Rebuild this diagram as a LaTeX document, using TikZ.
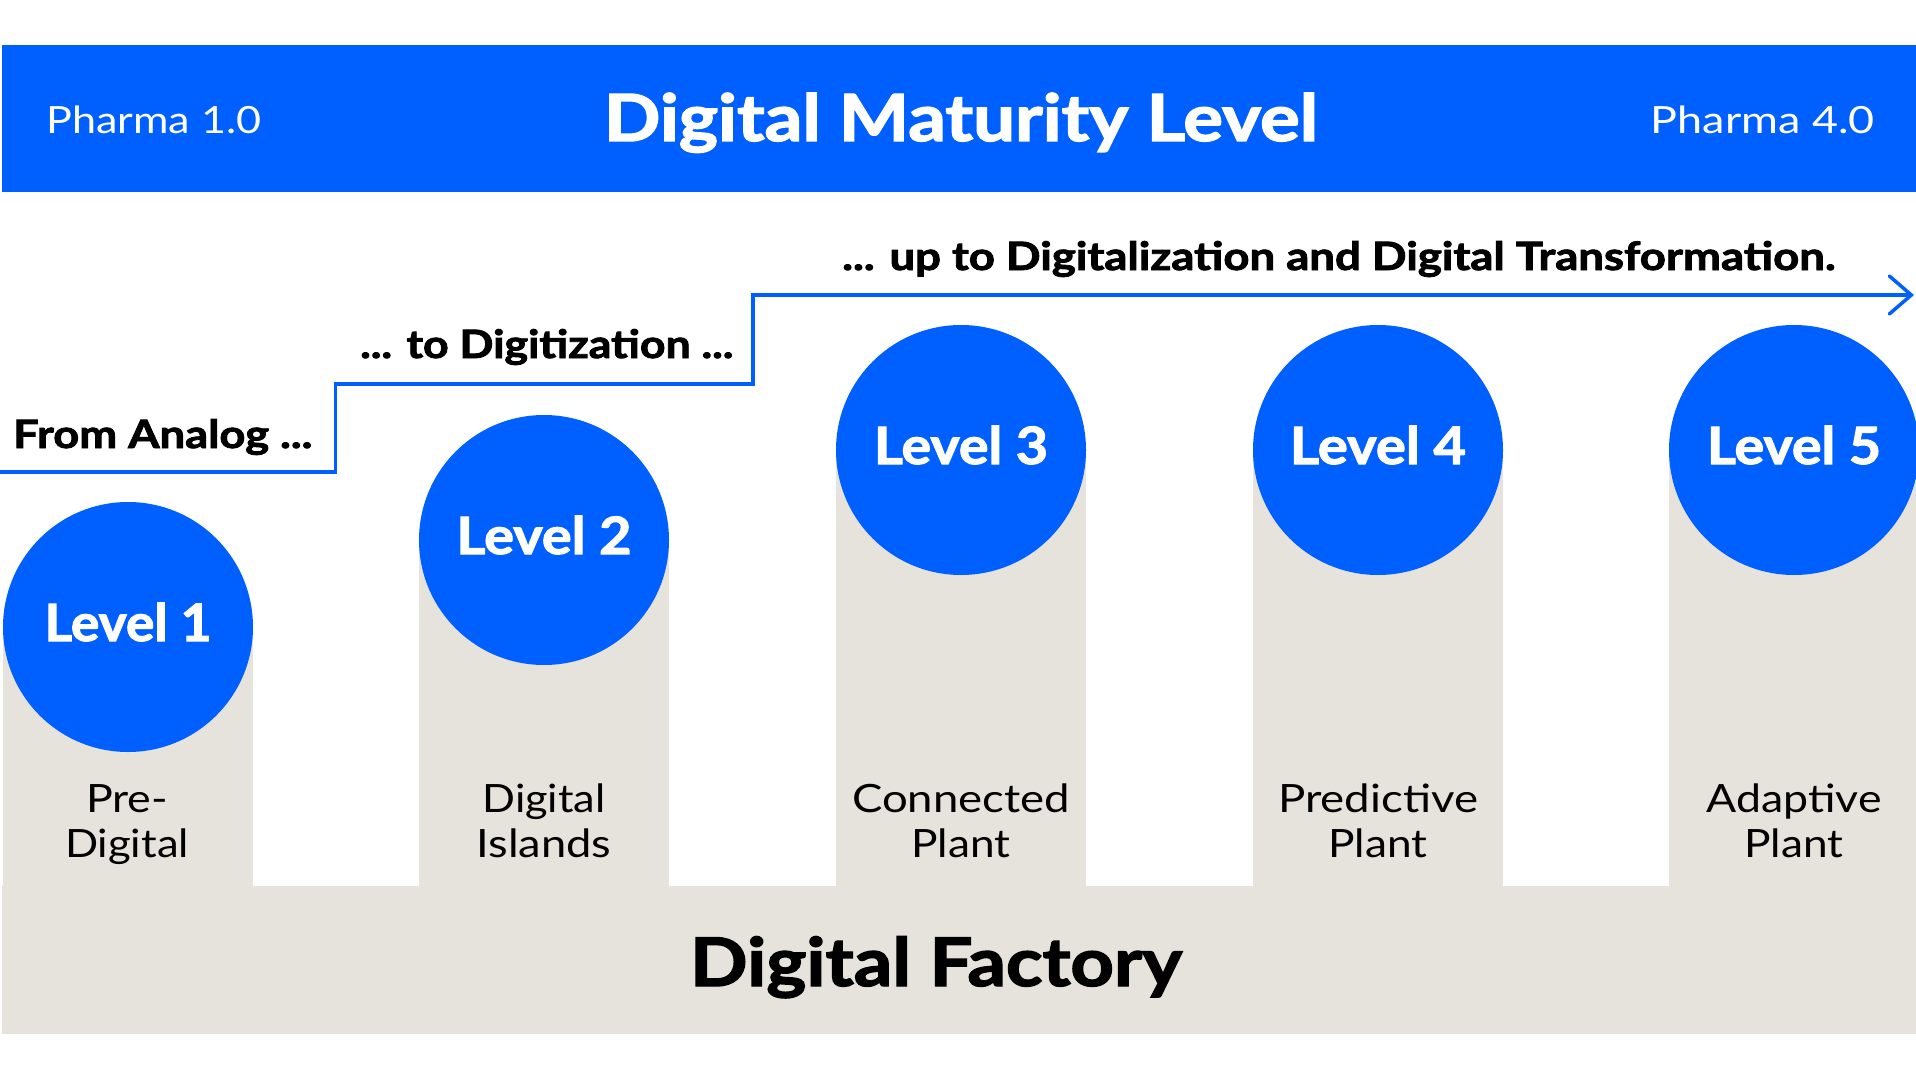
\documentclass[tikz,border=0pt]{standalone}
\usepackage{fontspec}
\setmainfont{Lato}
\newfontfamily\heavyfont{Lato Bold}[FakeBold=2]
\usetikzlibrary{arrows.meta}
\definecolor{dmblue}{RGB}{0,96,255}
\definecolor{dmgray}{RGB}{230,226,220}
\newcommand{\fitw}[2]{\resizebox{#1pt}{\height}{#2}}
\begin{document}
\begin{tikzpicture}[x=1pt,y=-1pt,
  bannerbox/.style={fill=dmblue, draw=none},
  titletext/.style={anchor=base, text=white, inner sep=0pt, font=\fontsize{65}{65}\heavyfont},
  pharmatext/.style={text=white, inner sep=0pt, font=\fontsize{37.5}{37.5}\selectfont},
  steptext/.style={anchor=base west, text=black, inner sep=0pt, font=\fontsize{39}{39}\heavyfont},
  levelcircle/.style={circle, fill=dmblue, minimum size=250pt, inner sep=0pt, text=white,
     font=\fontsize{51.5}{51.5}\heavyfont, text height=37pt, text depth=9pt},
  plantlabel/.style={anchor=base, inner sep=0pt, text=black,
     font=\fontsize{39}{39}\selectfont},
  factorytext/.style={anchor=base, text=black, inner sep=0pt, font=\fontsize{67}{67}\heavyfont},
  stepline/.style={draw=dmblue, line width=3.5pt, line join=miter},
]
\useasboundingbox (0,0) rectangle (1916,1078);
\fill[white] (0,0) rectangle (1916,1078);

% banner
\node[bannerbox, minimum width=1914pt, minimum height=147pt, inner sep=0pt, anchor=north west] (banner) at (2,45) {};
\node[titletext] (title) at (961,141) {\fitw{714}{Digital Maturity Level}};
\node[pharmatext, anchor=base west] (ph1) at (46,134) {\fitw{215}{Pharma 1.0}};
\node[pharmatext, anchor=base east] (ph4) at (1875,134) {\fitw{224}{Pharma 4.0}};

% gray structure
\fill[dmgray] (2,886) rectangle (1916,1034);
\foreach \cx/\cy in {128/627, 544/540, 961/450, 1378/450, 1794/450}{
  \fill[dmgray] (\cx-125,\cy) rectangle (\cx+125,887);
}

% circles
\node[levelcircle] (l1) at (128,627) {\fitw{167}{Level 1}};
\node[levelcircle] (l2) at (544,540) {\fitw{175}{Level 2}};
\node[levelcircle] (l3) at (961,450) {\fitw{174}{Level 3}};
\node[levelcircle] (l4) at (1378,450) {\fitw{176}{Level 4}};
\node[levelcircle] (l5) at (1794,450) {\fitw{174}{Level 5}};

% plant labels
\node[plantlabel] (p1a) at (127,812) {\fitw{82}{Pre-}};
\node[plantlabel] (p1b) at (127,857) {\fitw{124}{Digital}};
\node[plantlabel] (p2a) at (544,812) {\fitw{123}{Digital}};
\node[plantlabel] (p2b) at (544,857) {\fitw{135}{Islands}};
\node[plantlabel] (p3a) at (961,812) {\fitw{218}{Connected}};
\node[plantlabel] (p3b) at (961,857) {\fitw{99}{Plant}};
\node[plantlabel] (p4a) at (1378,812) {\fitw{200}{Predictive}};
\node[plantlabel] (p4b) at (1378,857) {\fitw{99}{Plant}};
\node[plantlabel] (p5a) at (1794,812) {\fitw{175}{Adaptive}};
\node[plantlabel] (p5b) at (1794,857) {\fitw{99}{Plant}};

\node[factorytext] (factory) at (936,986) {\fitw{492}{Digital Factory}};

% step line
\coordinate (s0) at (0,472);
\coordinate (s1) at (335.5,472);
\coordinate (s2) at (335.5,384);
\coordinate (s3) at (753,384);
\coordinate (s4) at (753,295);
\coordinate (s5) at (1914,295);
\draw[stepline, -{Straight Barb[length=22pt,width=38pt,line cap=round]}] (s0) -- (s1) -- (s2) -- (s3) -- (s4) -- (s5);

\node[steptext] (t1) at (13,448) {\fitw{299}{From Analog ...}};
\node[steptext] (t2) at (360,358) {\fitw{373}{... to Digitization ...}};
\node[steptext] (t3) at (842,270) {\fitw{993}{... up to Digitalization and Digital Transformation.}};
\end{tikzpicture}
\end{document}
